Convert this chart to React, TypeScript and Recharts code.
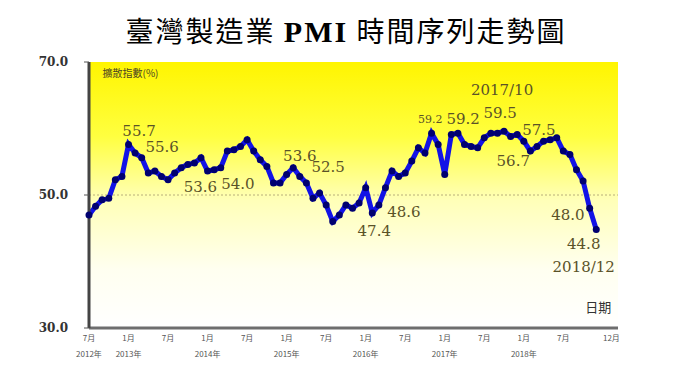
import { LineChart, Line, XAxis, YAxis, ReferenceLine, ReferenceArea, ReferenceDot } from 'recharts';

// Taiwan manufacturing PMI, monthly from 2012/07 to 2018/12
const pmi = [
  47.0, 48.3, 49.3, 49.5, 52.3, 52.8, 57.6, 56.3, 55.6, 53.3,
  53.6, 52.8, 52.3, 53.3, 54.1, 54.6, 54.8, 55.6, 53.6, 53.8,
  54.1, 56.6, 56.8, 57.3, 58.3, 56.6, 55.3, 54.3, 51.8, 51.8,
  53.1, 54.1, 52.8, 51.8, 49.5, 50.3, 48.5, 46.0, 47.0, 48.5,
  48.0, 48.8, 51.1, 47.3, 48.5, 51.1, 53.6, 52.8, 53.3, 55.1,
  57.1, 56.3, 59.3, 57.6, 53.1, 59.1, 59.3, 57.6, 57.3, 57.1,
  58.6, 59.3, 59.3, 59.6, 58.8, 59.1, 58.1, 56.6, 57.3, 58.1,
  58.3, 58.6, 56.6, 56.1, 53.8, 52.1, 48.0, 44.8,
];

const tickPos = [0, 6, 12, 18, 24, 30, 36, 42, 48, 54, 60, 66, 72, 79.3];
const tickMonth = ['7月', '1月', '7月', '1月', '7月', '1月', '7月', '1月', '7月', '1月', '7月', '1月', '7月', '12月'];
const tickYear = ['2012年', '2013年', '', '2014年', '', '2015年', '', '2016年', '', '2017年', '', '2018年', '', ''];

// callouts, anchored in (month index, index value)
const notes = [
  { x: 7.6, y: 59.6, text: '55.7' },
  { x: 11.1, y: 57.2, text: '55.6' },
  { x: 16.9, y: 51.2, text: '53.6' },
  { x: 22.6, y: 51.65, text: '54.0' },
  { x: 32.0, y: 55.9, text: '53.6' },
  { x: 36.3, y: 54.2, text: '52.5' },
  { x: 43.3, y: 44.6, text: '47.4' },
  { x: 47.8, y: 47.4, text: '48.6' },
  { x: 56.8, y: 61.4, text: '59.2' },
  { x: 62.4, y: 62.3, text: '59.5' },
  { x: 62.7, y: 65.8, text: '2017/10' },
  { x: 68.3, y: 59.8, text: '57.5' },
  { x: 64.4, y: 55.1, text: '56.7' },
  { x: 72.7, y: 47.0, text: '48.0' },
  { x: 75.1, y: 42.6, text: '44.8' },
  { x: 75.1, y: 39.2, text: '2018/12' },
];
const smallNote = { x: 51.8, y: 61.3, text: '59.2' };

const data = pmi.map((v, i) => ({ m: i, pmi: v }));

const CJK = '"Noto Sans CJK TC", "Noto Sans", sans-serif';
const SERIF = '"DejaVu Serif", "Liberation Serif", serif';
const NOTE_COLOR = '#5a5228';

const noteLabel = (text: string, size: number, color: string, family: string, anchor: string = 'middle') =>
  (props: any) => {
    const vb = props.viewBox || {};
    const cx = (vb.x ?? 0) + (vb.width ?? 0) / 2;
    const cy = (vb.y ?? 0) + (vb.height ?? 0) / 2;
    return (
      <text x={cx} y={cy} textAnchor={anchor} dominantBaseline="central" fontSize={size} fill={color} fontFamily={family}>
        {text}
      </text>
    );
  };

const MonthTick = (props: any) => {
  const { x, y, payload } = props;
  const idx = tickPos.indexOf(payload.value);
  return (
    <g>
      <text x={x} y={y + 9} textAnchor="middle" dominantBaseline="central" fontSize={8} fill="#555" fontFamily={CJK}>
        {tickMonth[idx]}
      </text>
      <text x={x} y={y + 25} textAnchor="middle" dominantBaseline="central" fontSize={8} fill="#555" fontFamily={CJK}>
        {tickYear[idx]}
      </text>
    </g>
  );
};

export default function App() {
  return (
    <div style={{ position: 'absolute', left: 0, top: 0, width: 680, height: 383, background: '#fff' }}>
      <svg width={0} height={0} style={{ position: 'absolute' }}>
        <defs>
          <linearGradient id="plotBg" x1="0" y1="0" x2="0" y2="1">
            <stop offset="0%" stopColor="#fff500" />
            <stop offset="28%" stopColor="#ffff40" />
            <stop offset="52%" stopColor="#ffffb8" />
            <stop offset="78%" stopColor="#fffff0" />
            <stop offset="100%" stopColor="#ffffff" />
          </linearGradient>
        </defs>
      </svg>
      <div
        style={{
          position: 'absolute',
          top: 12,
          left: 0,
          width: 680,
          paddingLeft: 12,
          boxSizing: 'border-box',
          textAlign: 'center',
          fontFamily: CJK,
          fontSize: 28,
          letterSpacing: 2,
          lineHeight: '36px',
          color: '#000',
        }}
      >
        臺灣製造業 <span style={{ fontFamily: '"Liberation Serif", serif', fontWeight: 700, fontSize: 30 }}>PMI</span> 時間序列走勢圖
      </div>
      <LineChart width={680} height={383} data={data} margin={{ top: 62, right: 62, left: 0, bottom: 0 }}>
        <XAxis
          type="number"
          dataKey="m"
          domain={[0, 80.3]}
          ticks={tickPos}
          interval={0}
          tickSize={0}
          tickMargin={0}
          height={55}
          tick={<MonthTick />}
          tickLine={false}
          axisLine={{ stroke: '#6e6e6e', strokeWidth: 3 }}
        />
        <YAxis
          type="number"
          domain={[30, 70]}
          ticks={[30, 50, 70]}
          width={89}
          tickSize={5}
          tickMargin={16}
          tickFormatter={(v: number) => v.toFixed(1)}
          tick={{ fill: '#333', fontSize: 12, fontWeight: 700, fontFamily: SERIF }}
          tickLine={{ stroke: '#555' }}
          axisLine={{ stroke: '#444', strokeWidth: 3 }}
        />
        <ReferenceArea x1={0} x2={80.3} y1={30} y2={70} fill="url(#plotBg)" fillOpacity={1} stroke="none" />
        <ReferenceLine y={50} stroke="#b8ae7a" strokeDasharray="2 2" strokeWidth={1} />
        <ReferenceDot
          x={6.3}
          y={68.35}
          r={1}
          fill="none"
          stroke="none"
          label={noteLabel('擴散指數(%)', 10, '#4a4424', CJK)}
        />
        <ReferenceDot
          x={77.3}
          y={33.3}
          r={1}
          fill="none"
          stroke="none"
          label={noteLabel('日期', 13, '#333', CJK)}
        />
        <Line
          type="linear"
          dataKey="pmi"
          stroke="#1212e6"
          strokeWidth={5}
          dot={{ r: 3.5, fill: '#000070', stroke: 'none' }}
          activeDot={false}
          isAnimationActive={false}
        />
        {notes.map((n, i) => (
          <ReferenceDot
            key={i}
            x={n.x}
            y={n.y}
            r={1}
            fill="none"
            stroke="none"
            label={noteLabel(n.text, 15, NOTE_COLOR, SERIF)}
          />
        ))}
        <ReferenceDot
          x={smallNote.x}
          y={smallNote.y}
          r={1}
          fill="none"
          stroke="none"
          label={noteLabel(smallNote.text, 11, NOTE_COLOR, SERIF)}
        />
      </LineChart>
    </div>
  );
}
